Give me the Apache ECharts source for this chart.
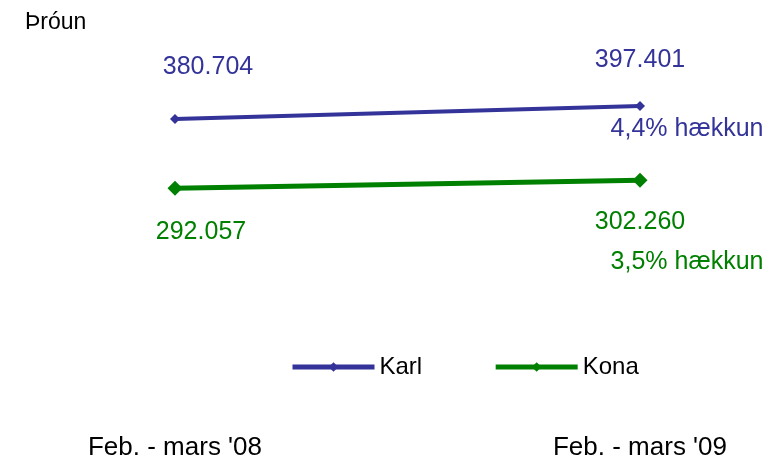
<!DOCTYPE html>
<html>
<head>
<meta charset="utf-8">
<script src="https://cdn.jsdelivr.net/npm/echarts@6/dist/echarts.min.js"></script>
<style>html,body{margin:0;padding:0;background:#fff}#c{width:775px;height:464px}</style>
</head>
<body>
<div id="c"></div>
<script>
const categories = ["Feb. - mars '08", "Feb. - mars '09"];
const karl = [380704, 397401];
const kona = [292057, 302260];
const karlChange = "4,4% hækkun";
const konaChange = "3,5% hækkun";
const titleText = "Þróun";

const FONT = "'Liberation Sans', Arial, sans-serif";
const BLUE = '#333399';
const GREEN = '#008000';
function fmt(v) { return String(v).replace(/\B(?=(\d{3})+(?!\d))/g, '.'); }

const chart = echarts.init(document.getElementById('c'));
chart.setOption({
  animation: false,
  backgroundColor: '#fff',
  textStyle: { fontFamily: FONT },
  title: { text: titleText, left: 20, top: 6, textStyle: { fontFamily: FONT, fontSize: 23, fontWeight: 'normal', color: '#000' } },
  grid: { left: 175, right: 135, top: 26, bottom: 48 },
  legend: {
    data: ['Karl', 'Kona'], left: 285, top: 350, itemWidth: 82, itemHeight: 12, itemGap: 71,
    lineStyle: { width: 5 },
    textStyle: { fontFamily: FONT, fontSize: 24, color: '#000' }
  },
  xAxis: {
    type: 'category', data: categories, boundaryGap: false,
    axisLine: { show: false }, axisTick: { show: false }, splitLine: { show: false },
    axisLabel: { margin: 19, fontSize: 26, color: '#000', fontFamily: FONT }
  },
  yAxis: { type: 'value', min: 0, max: 500000, show: false, splitLine: { show: false } },
  series: [
    {
      name: 'Karl', type: 'line', data: karl.map((v, i) => ({
        value: v, label: { offset: i === 0 ? [33, -52] : [0, -46] }
      })),
      symbol: 'diamond', symbolSize: 10, lineStyle: { width: 4, color: BLUE }, itemStyle: { color: BLUE },
      label: { show: true, position: 'inside', formatter: p => fmt(p.value), color: BLUE, fontSize: 25, fontFamily: FONT }
    },
    {
      name: 'Kona', type: 'line', data: kona.map((v, i) => ({
        value: v, label: { offset: i === 0 ? [26, 44] : [0, 42] }
      })),
      symbol: 'diamond', symbolSize: 15, lineStyle: { width: 5, color: GREEN }, itemStyle: { color: GREEN },
      label: { show: true, position: 'inside', formatter: p => fmt(p.value), color: GREEN, fontSize: 25, fontFamily: FONT }
    },
    {
      name: 'KarlChange', type: 'scatter', data: [[1, karl[1]]], symbolSize: 2, itemStyle: { color: 'rgba(0,0,0,0)', opacity: 1 }, silent: true, z: 5,
      label: { show: true, position: 'inside', offset: [47, 23], formatter: karlChange, color: BLUE, fontSize: 25, fontFamily: FONT }
    },
    {
      name: 'KonaChange', type: 'scatter', data: [[1, kona[1]]], symbolSize: 2, itemStyle: { color: 'rgba(0,0,0,0)', opacity: 1 }, silent: true, z: 5,
      label: { show: true, position: 'inside', offset: [47, 82], formatter: konaChange, color: GREEN, fontSize: 25, fontFamily: FONT }
    }
  ]
});
</script>
</body>
</html>
